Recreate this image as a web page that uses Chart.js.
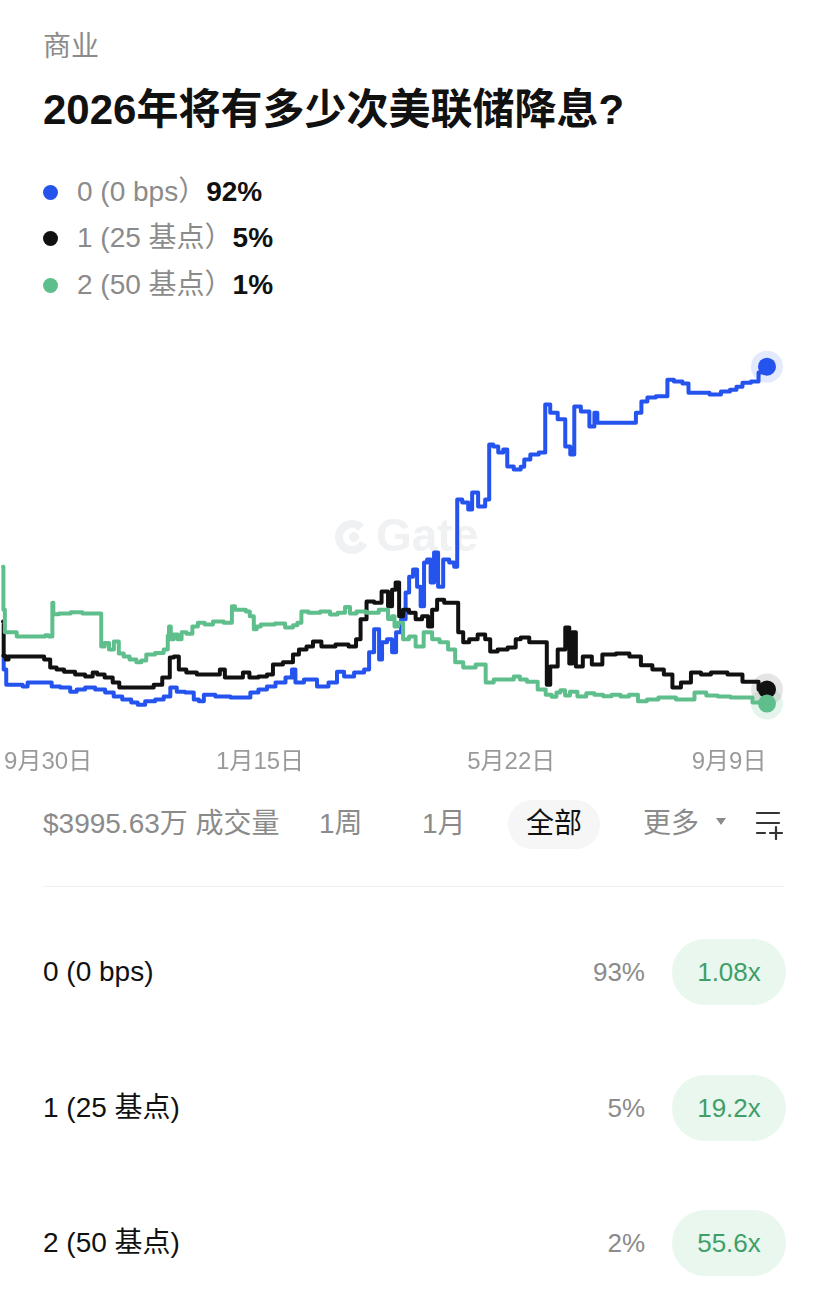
<!DOCTYPE html>
<html>
<head>
<meta charset="utf-8">
<script src="https://cdn.jsdelivr.net/npm/chart.js@4.4.1/dist/chart.umd.min.js"></script>
<style>
html,body{margin:0;padding:0;background:#fff;}
body{width:828px;height:1314px;position:relative;overflow:hidden;font-family:"Liberation Sans","Noto Sans CJK SC",sans-serif;}
.abs{position:absolute;white-space:nowrap;}
.cat{left:43px;top:30px;font-size:28px;line-height:34px;color:#8b8b8b;}
.title{left:43px;top:85px;font-size:42px;line-height:50px;font-weight:700;color:#111;}
.lg{left:43px;font-size:28px;line-height:34px;color:#8b8b8b;display:flex;align-items:center;}
.lg .dot{width:15px;height:15px;border-radius:50%;margin-right:19px;}
.lg b{color:#111;font-weight:700;}
#wrap{position:absolute;left:0;top:330px;width:828px;height:450px;}
.bar{top:807px;font-size:28px;line-height:34px;color:#8b8b8b;}
.pillAll{left:508px;top:800px;width:92px;height:49px;border-radius:25px;background:#f6f6f6;}
.sep{left:43px;top:886px;width:742px;height:1px;background:#f1f1f1;}
.rowName{left:43px;font-size:28px;line-height:34px;color:#111;}
.rowPct{font-size:26px;line-height:32px;color:#8b8b8b;text-align:right;width:120px;left:525px;}
.odds{left:672px;width:114px;height:66px;border-radius:33px;background:#e9f7ef;color:#3e9f69;font-size:26px;line-height:66px;text-align:center;}
</style>
</head>
<body>
<div class="abs cat">商业</div>
<div class="abs title">2026年将有多少次美联储降息?</div>
<div id="legend"></div>
<div id="wrap"><canvas id="c" width="828" height="450"></canvas></div>
<div id="bottom"></div>
<script>
// ---- data ----
const seriesNames = ['0 (0 bps）', '1 (25 基点）', '2 (50 基点）'];
const tickDays = [0, 108, 236, 347];
const tickLabels = ['9月30日', '1月15日', '5月22日', '9月9日'];
// [day offset from 9月30日, probability %]
const series0 = [[-23,14.0],[-22.3,10.4],[-20.4,6.3],[-14.3,6.3],[-11.7,5.8],[-9.2,6.9],[1.0,6.9],[2.6,5.8],[9.7,5.5],[12.8,4.4],[16.3,5.0],[21.4,5.5],[26.5,5.0],[31.6,4.2],[35.2,3.1],[40.3,2.3],[44.4,1.5],[46.9,0.9],[52,1.8],[57.1,2.3],[60.7,3.1],[63.8,5.5],[67.3,4.4],[72.4,4.2],[76,2.3],[77.6,1.8],[81.1,3.6],[89.3,3.1],[96.4,2.8],[101.5,2.8],[104.6,4.2],[109.7,5.0],[113.3,5.8],[118.4,6.9],[123.5,8.2],[125,10.4],[127,6.9],[133.7,7.7],[140.3,5.8],[145.4,6.9],[149,9.8],[152.6,8.5],[159.2,9.6],[162.8,10.4],[164.3,15.0],[167.9,21.2],[169.4,13.1],[170.9,17.7],[174.5,18.5],[176,15.0],[178.6,20.4],[181.1,23.9],[183.2,31.1],[184.7,35.4],[187.2,37.3],[188.8,32.7],[190.8,27.4],[192.3,39.2],[193.9,40.0],[195.9,33.8],[197.4,41.9],[200,32.7],[202.6,40.0],[206.1,39.2],[207.7,38.1],[209.2,56.2],[212.8,55.4],[215.3,53.5],[216.8,58.1],[221.4,54.3],[224,56.2],[225.5,71.0],[228.1,70.5],[230.6,68.9],[233.2,69.7],[234.7,65.1],[239.8,64.3],[241.8,65.0],[243.4,67.0],[248,68.3],[252,68.9],[254.6,81.8],[257.1,79.6],[262.2,77.8],[264.8,70.5],[267.3,68.3],[268.9,81.3],[274,79.9],[277.6,75.9],[279.1,79.6],[280.6,76.9],[289.3,76.9],[298,76.9],[301,79.6],[303.6,82.6],[307.1,83.7],[312.2,84.0],[314.8,84.0],[316.3,88.5],[321.4,88.0],[325,87.5],[327.6,85.0],[333.7,85.0],[340.3,84.5],[345.4,85.3],[349.5,85.8],[352,86.6],[355.6,87.7],[360.7,88.0],[363.3,90.4],[366.3,92.0]];
const series1 = [[-23,23.3],[-22.3,14.0],[-20.9,13.1],[-19.4,13.9],[-2.6,13.9],[-1.5,13.1],[3.6,10.9],[5,10.4],[11.2,9.8],[16.3,9.0],[21.4,8.5],[24,9.6],[26,9.0],[31.6,8.2],[34.2,6.9],[38.3,5.5],[44.4,5.5],[52,5.5],[55.6,6.3],[60.7,8.2],[63.3,13.6],[64.8,13.9],[68.4,10.4],[72.4,9.6],[79.1,9.0],[86.2,9.0],[88.8,10.4],[91.3,8.2],[98,8.2],[100.5,9.6],[104.6,8.2],[109.7,8.5],[113.3,9.0],[115.8,11.7],[123.5,12.3],[126,14.4],[129.6,15.8],[133.7,16.6],[136.2,17.9],[142.3,16.6],[150.5,17.1],[155.6,16.6],[158.2,18.5],[160.2,23.9],[164.3,28.7],[167.9,28.4],[171.9,31.4],[174.5,27.4],[176,31.9],[178.1,33.8],[179.6,24.7],[182.1,26.5],[185.7,25.7],[188.8,23.9],[192.3,24.7],[194.9,22.0],[196.4,26.5],[200,29.2],[203.6,28.4],[207.7,28.4],[210.2,20.4],[212.8,17.7],[216.3,18.5],[221.4,19.8],[224,18.5],[226.5,15.2],[231.6,15.8],[236.7,16.3],[239.8,18.5],[241.8,19.0],[248.5,17.7],[253.6,17.7],[254.6,6.3],[257.1,11.2],[262.2,15.8],[264.8,21.7],[266.3,12.0],[267.9,20.4],[269.9,11.2],[275,13.9],[279.1,11.7],[285.7,14.4],[292.9,14.7],[299.5,13.9],[304.6,11.5],[311.2,10.4],[316.3,9.0],[319.9,5.5],[325,6.9],[330.1,9.6],[335.2,9.0],[340.3,9.6],[352,9.0],[355.6,7.1],[360.7,7.1],[363.3,5.0],[366.3,5.0]];
const series2 = [[-23,38.1],[-22.6,26.5],[-21.5,20.4],[-16.5,20.4],[-15.5,19.3],[-2,19.3],[-1,19.6],[1.5,19.3],[2,19.3],[2.3,28.4],[3,25.3],[8,25.5],[15,25.8],[20,25.5],[26.5,25.5],[27.6,16.6],[30,17.5],[32,15.8],[35,17.9],[37,14.7],[40,13.9],[43,13.1],[46.9,12.3],[48,12.8],[52,14.4],[57,14.8],[60.7,15.8],[61.2,19.5],[62,22.0],[63,18.5],[65,19.8],[67,18.5],[69,20.4],[72,20.0],[75,22.0],[77.6,23.0],[82,22.5],[86,23.3],[92.9,23.0],[94.4,27.4],[96,26.5],[100,26.5],[101.5,26.0],[104,24.7],[105.6,21.2],[107,22.0],[109.7,22.5],[113,22.5],[118,22.8],[123.5,21.7],[126,22.3],[128,23.0],[130.1,26.0],[135,25.7],[142.3,26.0],[145,25.2],[150,25.7],[152.6,27.2],[155,25.5],[159.2,26.0],[165,25.7],[171.9,26.5],[174.5,24.0],[176,24.7],[177,22.0],[179.6,23.0],[182.1,18.5],[185.7,19.3],[188.8,16.6],[193.9,20.4],[197.4,18.5],[201.5,17.7],[206.1,15.8],[208.7,12.3],[214.3,10.9],[221.4,11.7],[224.5,6.9],[229.6,7.7],[234.7,7.7],[239.8,8.5],[241,7.7],[246.9,7.1],[252,5.0],[255.1,3.6],[258,3.0],[260,4.2],[262,4.8],[264.8,3.4],[267,4.4],[272.4,3.1],[276,4.0],[280.6,3.6],[285,3.2],[289.3,3.6],[294,3.1],[298,3.6],[303.1,1.8],[307.1,2.3],[314.8,2.8],[325,2.3],[333.7,4.2],[337,3.4],[345.4,3.1],[350,2.8],[355.6,2.8],[362.2,1.5],[366.3,1.2]];
const volumeText = '$3995.63万 成交量';
const rangeButtons = ['1周', '1月', '全部', '更多'];
const outcomeNames = ['0 (0 bps)', '1 (25 基点)', '2 (50 基点)'];
const outcomePrices = [93, 5, 2];
const outcomeOdds = ['1.08', '19.2', '55.6'];

// ---- styles ----
const lineColors = ['#2453ee', '#111111', '#5fbf8c'];
const haloColors = ['rgba(36,83,238,0.12)', 'rgba(0,0,0,0.10)', 'rgba(95,191,140,0.16)'];
const FONT = '"Liberation Sans", "Noto Sans CJK SC", sans-serif';

// ---- legend (html) ----
const allSeries = [series0, series1, series2];
const legend = document.getElementById('legend');
const legendTops = [175, 221, 268];
allSeries.forEach((s, i) => {
  const d = document.createElement('div');
  d.className = 'abs lg';
  d.style.top = legendTops[i] + 'px';
  const last = s[s.length - 1][1];
  d.innerHTML = '<span class="dot" style="background:' + lineColors[i] + '"></span>' +
    '<span>' + seriesNames[i] + '</span><b>' + Math.round(last) + '%</b>';
  legend.appendChild(d);
});

// ---- bottom (html) ----
const bottom = document.getElementById('bottom');
let h = '<div class="abs bar" style="left:43px">' + volumeText + '</div>';
h += '<div class="abs bar" style="left:319px">' + rangeButtons[0] + '</div>';
h += '<div class="abs bar" style="left:422px">' + rangeButtons[1] + '</div>';
h += '<div class="abs pillAll"></div>';
h += '<div class="abs bar" style="left:526px;color:#111">' + rangeButtons[2] + '</div>';
h += '<div class="abs bar" style="left:643px">' + rangeButtons[3] + '</div>';
h += '<div class="abs" style="left:716px;top:818px;width:0;height:0;border-left:5px solid transparent;border-right:5px solid transparent;border-top:7px solid #8b8b8b"></div>';
h += '<svg class="abs" style="left:755px;top:810px" width="30" height="30" viewBox="0 0 30 30"><g stroke="#333" stroke-width="2.2" stroke-linecap="round"><line x1="2" y1="3" x2="24" y2="3"/><line x1="2" y1="13" x2="24" y2="13"/><line x1="2" y1="23" x2="10" y2="23"/><line x1="15" y1="23" x2="27" y2="23"/><line x1="21" y1="17" x2="21" y2="29"/></g></svg>';
h += '<div class="abs sep"></div>';
const rowCenters = [972, 1108, 1243];
outcomeNames.forEach((n, i) => {
  const c = rowCenters[i];
  h += '<div class="abs rowName" style="top:' + (c - 17) + 'px">' + n + '</div>';
  h += '<div class="abs rowPct" style="top:' + (c - 16) + 'px">' + outcomePrices[i] + '%</div>';
  h += '<div class="abs odds" style="top:' + (c - 33) + 'px">' + outcomeOdds[i] + 'x</div>';
});
bottom.innerHTML = h;

// ---- chart ----
const haloPlugin = {
  id: 'halo',
  beforeDatasetsDraw(chart) {
    const c = chart.ctx;
    // faint watermark
    c.save();
    c.fillStyle = '#f0f1f3';
    c.strokeStyle = '#f0f1f3';
    c.lineWidth = 8;
    c.beginPath();
    c.arc(352, 207, 13, Math.PI * 0.15, Math.PI * 1.75);
    c.stroke();
    c.beginPath();
    c.arc(354, 207, 5, 0, Math.PI * 2);
    c.fill();
    c.font = 'bold 46px ' + FONT;
    c.textBaseline = 'middle';
    c.fillText('Gate', 376, 208);
    c.restore();
    chart.data.datasets.forEach((ds, i) => {
      const meta = chart.getDatasetMeta(i);
      const el = meta.data[meta.data.length - 1];
      c.save();
      c.fillStyle = ds.haloColor;
      c.beginPath();
      c.arc(el.x, el.y, 16, 0, Math.PI * 2);
      c.fill();
      c.restore();
    });
  }
};

function makeDs(idx) {
  const s = allSeries[idx];
  return {
    label: seriesNames[idx],
    data: s.map(p => ({ x: p[0], y: p[1] })),
    borderColor: lineColors[idx],
    backgroundColor: lineColors[idx],
    pointBackgroundColor: lineColors[idx],
    haloColor: haloColors[idx],
    borderWidth: 4,
    borderJoinStyle: 'round',
    borderCapStyle: 'round',
    stepped: 'middle',
    clip: false,
    pointBorderWidth: 0,
    pointRadius: ctx => (ctx.dataIndex === s.length - 1 ? 9 : 0),
    pointHoverRadius: 0
  };
}

new Chart(document.getElementById('c'), {
  type: 'line',
  data: { datasets: [makeDs(2), makeDs(1), makeDs(0)] },
  options: {
    responsive: false,
    animation: false,
    events: [],
    layout: { autoPadding: false, padding: { left: 3, right: 61, top: 7, bottom: 6 } },
    plugins: { legend: { display: false }, tooltip: { enabled: false } },
    scales: {
      x: {
        type: 'linear',
        min: -23,
        max: 366.3,
        grid: { display: false, drawTicks: false },
        border: { display: false },
        afterBuildTicks: s => { s.ticks = tickDays.map(v => ({ value: v })); },
        afterFit: s => { s.height = 66; s.paddingLeft = 0; s.paddingRight = 0; },
        ticks: {
          autoSkip: false,
          maxRotation: 0,
          padding: 40,
          color: '#9a9a9a',
          font: { family: FONT, size: 24 },
          callback: (v, i) => tickLabels[i]
        }
      },
      y: { display: false, min: 0, max: 100 }
    }
  },
  plugins: [haloPlugin]
});
</script>
</body>
</html>
